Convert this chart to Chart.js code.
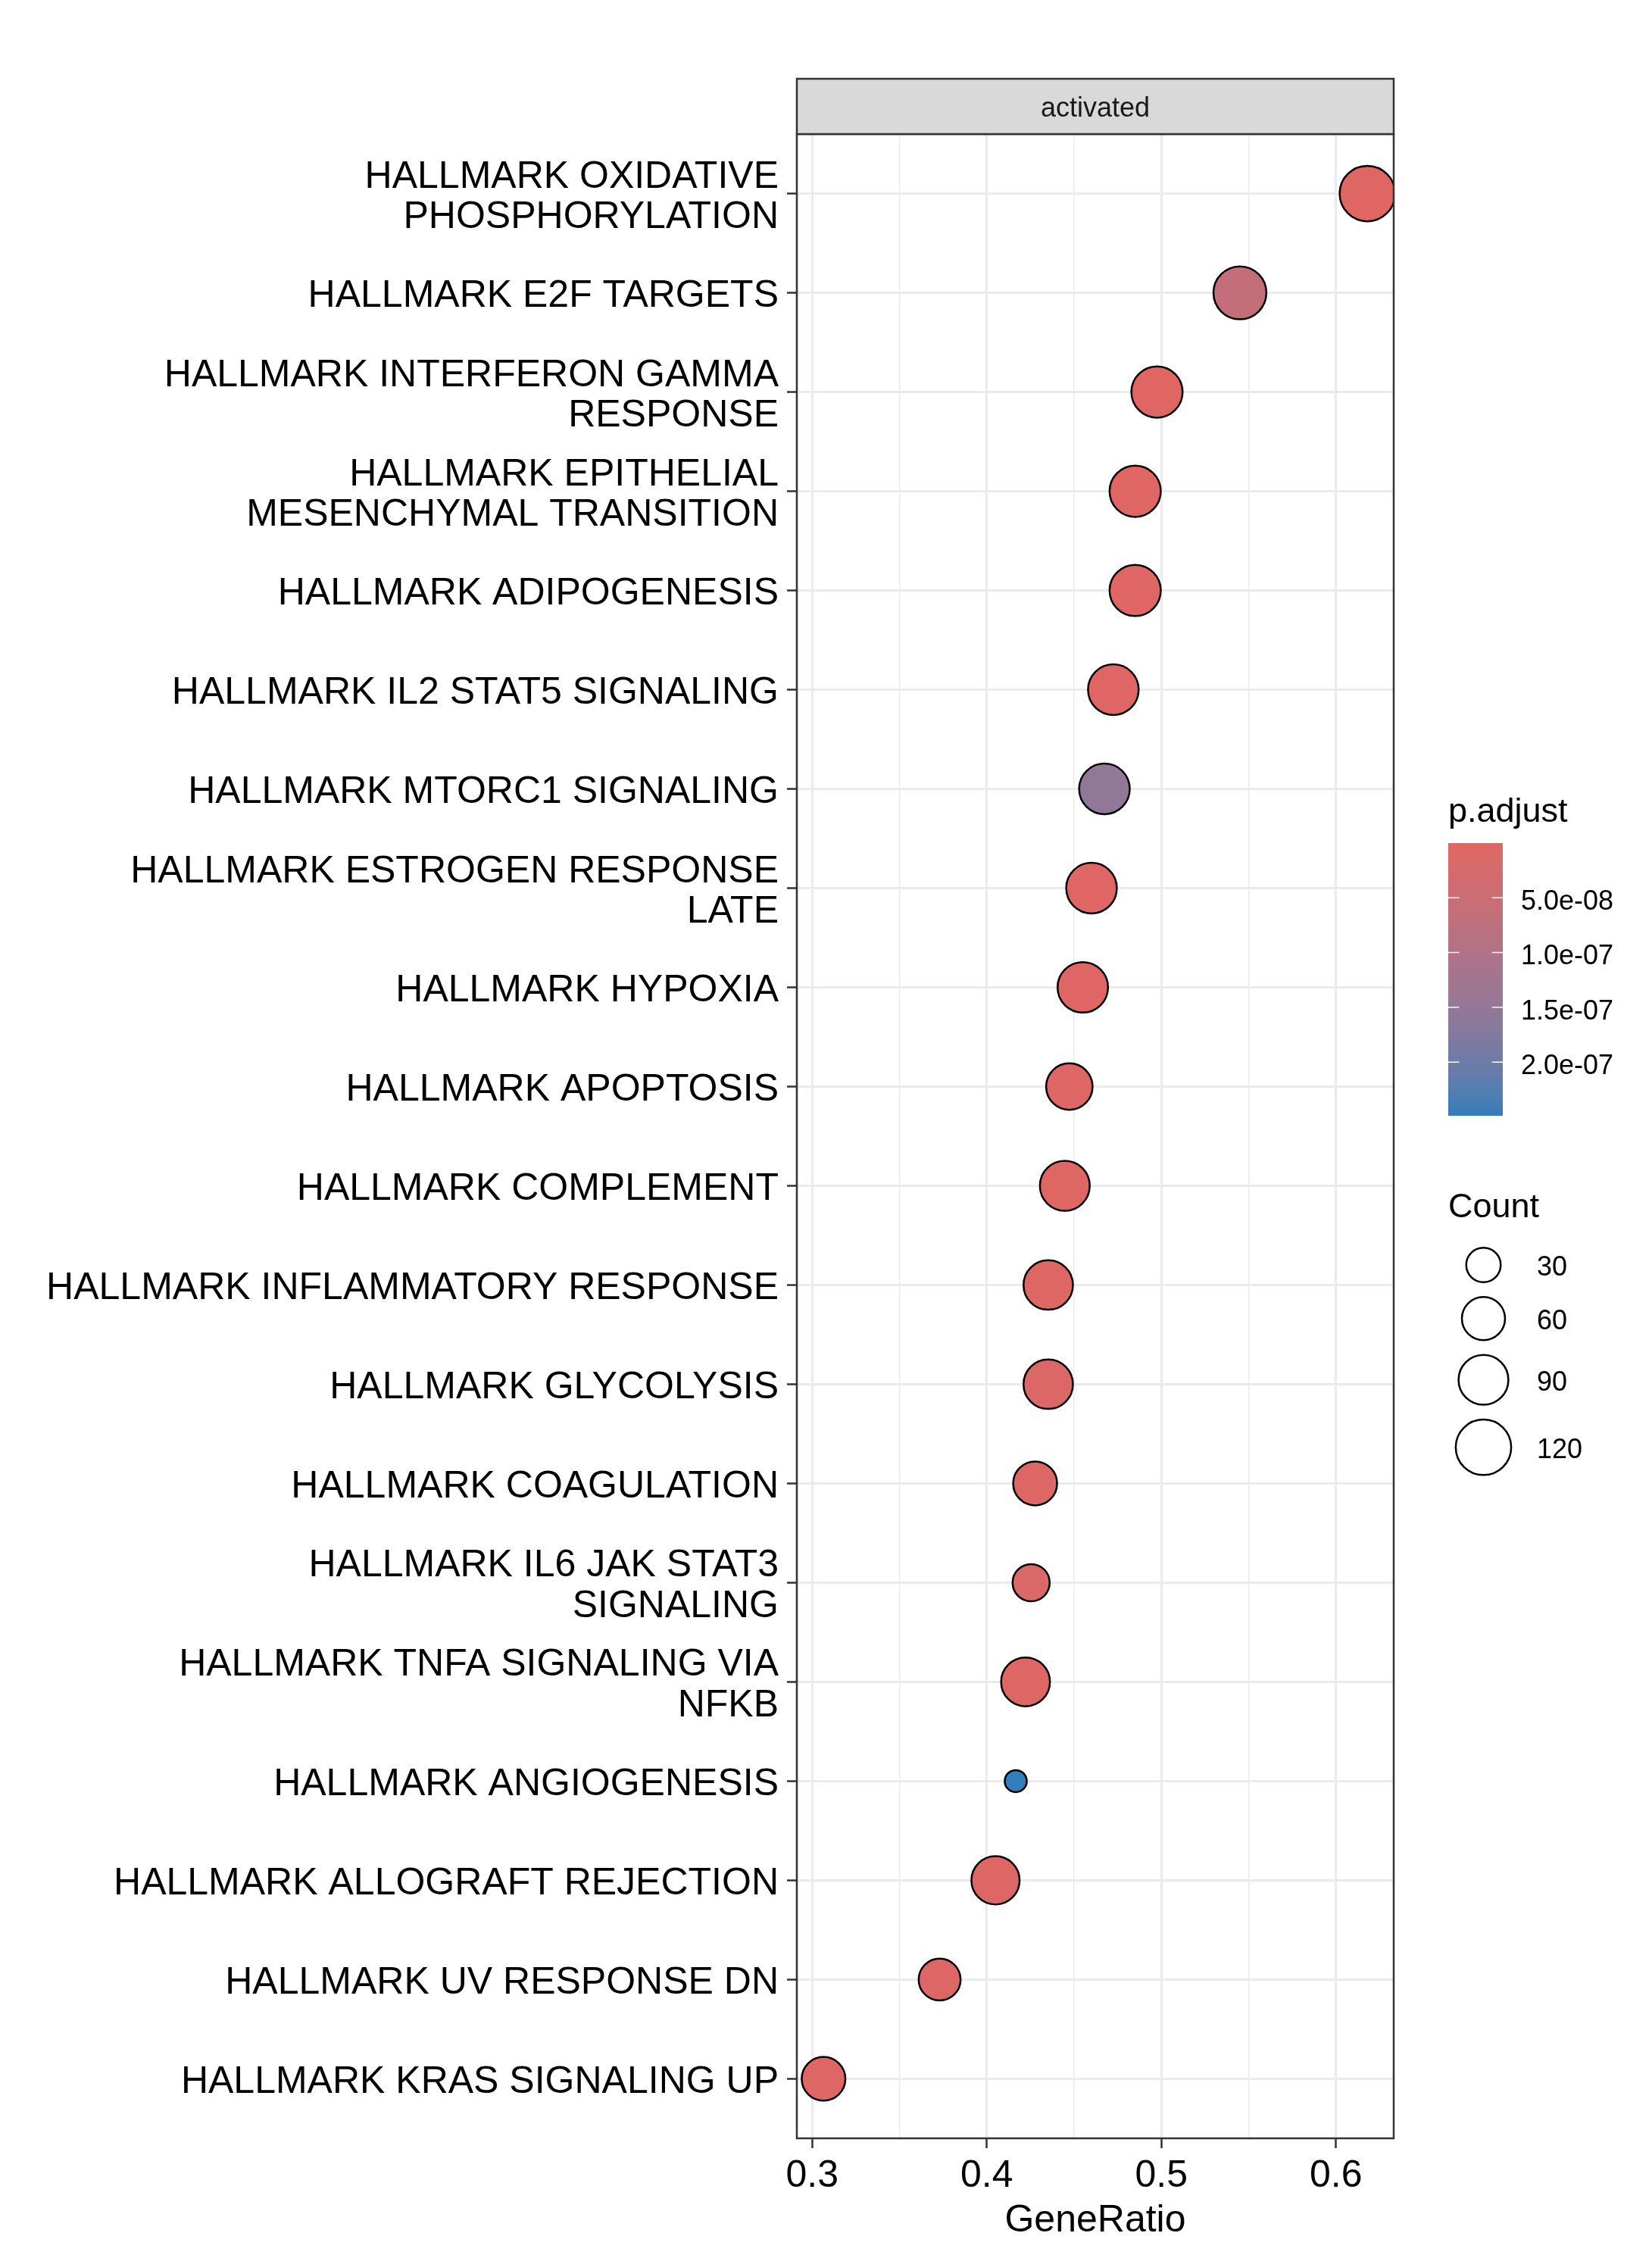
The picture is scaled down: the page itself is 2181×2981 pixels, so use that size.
<!DOCTYPE html>
<html>
<head>
<meta charset="utf-8">
<title>activated - GeneRatio dot plot</title>
<script src="https://cdn.jsdelivr.net/npm/chart.js@4.4.1/dist/chart.umd.min.js"></script>
<style>
  html, body { margin: 0; padding: 0; background: #fff; }
  #wrap { width: 2181px; height: 2981px; }
</style>
</head>
<body>
<div id="wrap"><canvas id="dotChart" width="2181" height="2981"></canvas></div>
<script>
// pathways, top to bottom
const pathways = [
  ['HALLMARK OXIDATIVE', 'PHOSPHORYLATION'],
  ['HALLMARK E2F TARGETS'],
  ['HALLMARK INTERFERON GAMMA', 'RESPONSE'],
  ['HALLMARK EPITHELIAL', 'MESENCHYMAL TRANSITION'],
  ['HALLMARK ADIPOGENESIS'],
  ['HALLMARK IL2 STAT5 SIGNALING'],
  ['HALLMARK MTORC1 SIGNALING'],
  ['HALLMARK ESTROGEN RESPONSE', 'LATE'],
  ['HALLMARK HYPOXIA'],
  ['HALLMARK APOPTOSIS'],
  ['HALLMARK COMPLEMENT'],
  ['HALLMARK INFLAMMATORY RESPONSE'],
  ['HALLMARK GLYCOLYSIS'],
  ['HALLMARK COAGULATION'],
  ['HALLMARK IL6 JAK STAT3', 'SIGNALING'],
  ['HALLMARK TNFA SIGNALING VIA', 'NFKB'],
  ['HALLMARK ANGIOGENESIS'],
  ['HALLMARK ALLOGRAFT REJECTION'],
  ['HALLMARK UV RESPONSE DN'],
  ['HALLMARK KRAS SIGNALING UP']
];
const geneRatio = [0.618, 0.545, 0.4975, 0.485, 0.485, 0.4725, 0.4674, 0.460, 0.455, 0.4473,
                   0.4447, 0.4352, 0.4352, 0.4277, 0.4254, 0.4222, 0.4166, 0.405, 0.373, 0.3065];
const geneCount = [120, 106, 97, 97, 97, 94, 94, 94, 93, 74,
                   90, 88, 88, 63, 38, 85, 5, 82, 55, 62];
const pAdjust = [1e-10, 6.2e-8, 1e-9, 1e-9, 2e-9, 3e-9, 1.55e-7, 3e-9, 3e-9, 5e-9,
                 4e-9, 4e-9, 1.2e-8, 6e-9, 1.4e-8, 5e-9, 2.49e-7, 5e-9, 7e-9, 5e-9];

const xMajor = [0.3, 0.4, 0.5, 0.6];
const xMinor = [0.35, 0.45, 0.55];
const colorTicks = [5e-8, 1e-7, 1.5e-7, 2e-7];
const colorTickLabels = ['5.0e-08', '1.0e-07', '1.5e-07', '2.0e-07'];
const countBreaks = [30, 60, 90, 120];

const LOW = '#e06663';
const HIGH = '#327eba';
const FONT = '"Liberation Sans", Arial, Helvetica, sans-serif';
const BORDER_W = 2.5;

// --- colour ramp in CIELAB, like ggplot's gradient ---
const WHITE = [0.95047, 1, 1.08883];
function hexToRgb(h) { return [1, 3, 5].map(i => parseInt(h.substr(i, 2), 16)); }
function toLinear(c) { c /= 255; return c <= 0.04045 ? c / 12.92 : Math.pow((c + 0.055) / 1.055, 2.4); }
function fromLinear(c) {
  const v = c <= 0.0031308 ? 12.92 * c : 1.055 * Math.pow(c, 1 / 2.4) - 0.055;
  return Math.round(Math.min(1, Math.max(0, v)) * 255);
}
function rgbToLab(rgb) {
  const [r, g, b] = rgb.map(toLinear);
  const x = (0.4124 * r + 0.3576 * g + 0.1805 * b) / WHITE[0];
  const y = (0.2126 * r + 0.7152 * g + 0.0722 * b) / WHITE[1];
  const z = (0.0193 * r + 0.1192 * g + 0.9505 * b) / WHITE[2];
  const f = t => t > 0.008856 ? Math.cbrt(t) : 7.787 * t + 16 / 116;
  const fx = f(x), fy = f(y), fz = f(z);
  return [116 * fy - 16, 500 * (fx - fy), 200 * (fy - fz)];
}
function labToRgb(lab) {
  const fy = (lab[0] + 16) / 116, fx = fy + lab[1] / 500, fz = fy - lab[2] / 200;
  const finv = t => { const t3 = t * t * t; return t3 > 0.008856 ? t3 : (t - 16 / 116) / 7.787; };
  const x = finv(fx) * WHITE[0], y = finv(fy) * WHITE[1], z = finv(fz) * WHITE[2];
  const r = 3.2406 * x - 1.5372 * y - 0.4986 * z;
  const g = -0.9689 * x + 1.8758 * y + 0.0415 * z;
  const b = 0.0557 * x - 0.2040 * y + 1.0570 * z;
  return [r, g, b].map(fromLinear);
}
const labLow = rgbToLab(hexToRgb(LOW));
const labHigh = rgbToLab(hexToRgb(HIGH));
const pMin = Math.min(...pAdjust);
const pMax = Math.max(...pAdjust);

function pColor(p) {
  const t = Math.min(1, Math.max(0, (p - pMin) / (pMax - pMin)));
  const lab = labLow.map((v, i) => v + (labHigh[i] - v) * t);
  const [r, g, b] = labToRgb(lab);
  return `rgb(${r},${g},${b})`;
}

// outer diameter (px) for a count, sqrt scaled
function countDiameter(c) { return 20.3 + 5.06 * Math.sqrt(c); }
function countRadius(c) { return (countDiameter(c) - BORDER_W) / 2; }

const points = geneRatio.map((r, i) => ({ x: r, y: i + 1 }));

const ggDecor = {
  id: 'ggDecor',
  beforeDraw(chart) {
    const ctx = chart.ctx;
    ctx.save();
    ctx.fillStyle = '#fff';
    ctx.fillRect(0, 0, chart.width, chart.height);
    ctx.restore();
  },
  afterDraw(chart) {
    const ctx = chart.ctx;
    const a = chart.chartArea;
    ctx.save();

    // panel border
    ctx.strokeStyle = '#333333';
    ctx.lineWidth = BORDER_W;
    ctx.strokeRect(a.left, a.top, a.right - a.left, a.bottom - a.top);

    // facet strip
    const stripTop = 104;
    ctx.fillStyle = '#D9D9D9';
    ctx.fillRect(a.left, stripTop, a.right - a.left, a.top - stripTop);
    ctx.strokeRect(a.left, stripTop, a.right - a.left, a.top - stripTop);
    ctx.fillStyle = '#1A1A1A';
    ctx.font = `36px ${FONT}`;
    ctx.textAlign = 'center';
    ctx.textBaseline = 'middle';
    ctx.fillText('activated', (a.left + a.right) / 2, (stripTop + a.top) / 2 + 4);

    // p.adjust colour bar
    const lx = 1912;
    ctx.fillStyle = '#000';
    ctx.font = `45px ${FONT}`;
    ctx.textAlign = 'left';
    ctx.textBaseline = 'alphabetic';
    ctx.fillText('p.adjust', lx, 1085);

    const barTop = 1113, barH = 360, barW = 72;
    const grad = ctx.createLinearGradient(0, barTop, 0, barTop + barH);
    for (let k = 0; k <= 20; k++) {
      grad.addColorStop(k / 20, pColor(pMin + (pMax - pMin) * k / 20));
    }
    ctx.fillStyle = grad;
    ctx.fillRect(lx, barTop, barW, barH);

    ctx.strokeStyle = '#fff';
    ctx.lineWidth = 1.5;
    ctx.font = `36px ${FONT}`;
    ctx.textBaseline = 'middle';
    colorTicks.forEach((v, i) => {
      const y = barTop + (v - pMin) / (pMax - pMin) * barH;
      ctx.beginPath();
      ctx.moveTo(lx, y); ctx.lineTo(lx + barW / 5, y);
      ctx.moveTo(lx + barW - barW / 5, y); ctx.lineTo(lx + barW, y);
      ctx.stroke();
      ctx.fillStyle = '#000';
      ctx.fillText(colorTickLabels[i], 2008, y + 6);
    });

    // Count size legend
    ctx.font = `45px ${FONT}`;
    ctx.textBaseline = 'alphabetic';
    ctx.fillText('Count', lx, 1607);

    ctx.font = `36px ${FONT}`;
    ctx.textBaseline = 'middle';
    ctx.strokeStyle = '#000';
    ctx.lineWidth = BORDER_W;
    let cy = 1670 - countDiameter(countBreaks[0]) / 2;
    countBreaks.forEach((c, i) => {
      const d = countDiameter(c);
      if (i > 0) cy += 17;
      const yc = cy + d / 2;
      ctx.beginPath();
      ctx.arc(1958.5, yc, countRadius(c), 0, Math.PI * 2);
      ctx.fillStyle = '#fff';
      ctx.fill();
      ctx.stroke();
      ctx.fillStyle = '#000';
      ctx.fillText(String(c), 2029, yc + 4);
      cy += d;
    });

    ctx.restore();
  }
};

new Chart(document.getElementById('dotChart'), {
  type: 'scatter',
  data: {
    datasets: [{
      label: 'activated',
      data: points,
      pointRadius: geneCount.map(countRadius),
      pointHoverRadius: geneCount.map(countRadius),
      pointBackgroundColor: pAdjust.map(pColor),
      pointBorderColor: '#000',
      pointBorderWidth: BORDER_W,
      pointHoverBorderWidth: BORDER_W,
      clip: 0
    }]
  },
  options: {
    responsive: false,
    devicePixelRatio: 1,
    animation: false,
    events: [],
    layout: { padding: { top: 177, right: 341, bottom: 0, left: 0 } },
    plugins: {
      legend: { display: false },
      tooltip: { enabled: false },
      title: { display: false }
    },
    scales: {
      x: {
        type: 'linear',
        min: 0.2912,
        max: 0.6331,
        afterBuildTicks: (scale) => {
          scale.ticks = [...xMajor, ...xMinor].sort((p, q) => p - q).map(v => ({ value: v }));
        },
        afterFit: (scale) => { scale.height = 158; },
        grid: {
          color: '#EBEBEB',
          lineWidth: (c) => (c.tick && xMinor.includes(c.tick.value)) ? 1.5 : 3,
          tickColor: (c) => (c.tick && xMinor.includes(c.tick.value)) ? 'rgba(0,0,0,0)' : '#333333',
          tickWidth: 2.5,
          tickLength: 13,
          drawTicks: true
        },
        border: { display: false },
        ticks: {
          color: '#000',
          font: { family: FONT, size: 50 },
          padding: 7,
          maxRotation: 0,
          autoSkip: false,
          callback: (v) => xMajor.includes(v) ? v.toFixed(1) : ''
        },
        title: {
          display: true,
          text: 'GeneRatio',
          color: '#000',
          font: { family: FONT, size: 50 },
          padding: { top: 0, bottom: 19 }
        }
      },
      y: {
        type: 'linear',
        reverse: true,
        min: 0.4,
        max: pathways.length + 0.6,
        afterBuildTicks: (scale) => {
          scale.ticks = pathways.map((_, i) => ({ value: i + 1 }));
        },
        afterFit: (scale) => { scale.width = 1052; },
        grid: {
          color: '#EBEBEB',
          lineWidth: 3,
          tickColor: '#333333',
          tickWidth: 2.5,
          tickLength: 13
        },
        border: { display: false },
        ticks: {
          color: '#000',
          font: { family: FONT, size: 50, lineHeight: 1.07 },
          padding: 11,
          labelOffset: 5,
          autoSkip: false,
          callback: (v) => pathways[Math.round(v) - 1]
        }
      }
    }
  },
  plugins: [ggDecor]
});
</script>
</body>
</html>
